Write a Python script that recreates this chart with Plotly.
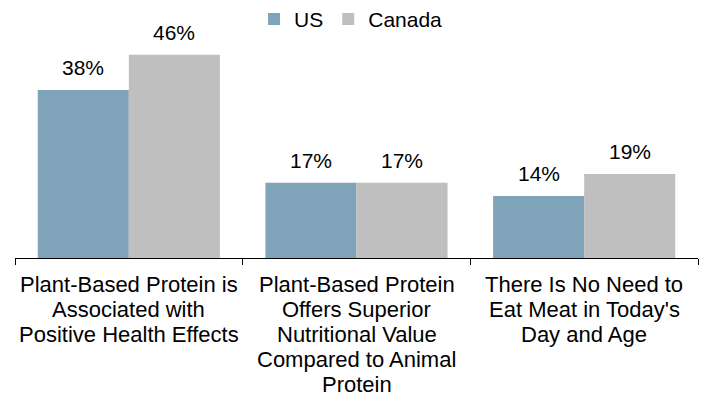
import plotly.graph_objects as go

categories = [
    "Plant-Based Protein is<br>Associated with<br>Positive Health Effects",
    "Plant-Based Protein<br>Offers Superior<br>Nutritional Value<br>Compared to Animal<br>Protein",
    "There Is No Need to<br>Eat Meat in Today's<br>Day and Age",
]
us_values = [38, 17, 14]
canada_values = [46, 17, 19]

US_COLOR = "#7FA3B8"
CANADA_COLOR = "#BFBFBF"
FONT = "Liberation Sans, Arial, sans-serif"

BAR_HALF_PX = 45.5       # half of one bar's width in pixels
LINE_STEP_PX = 25        # spacing between category label lines

fig = go.Figure()
series = [("US", us_values, US_COLOR, -1), ("Canada", canada_values, CANADA_COLOR, 1)]
for name, vals, color, side in series:
    fig.add_trace(go.Bar(
        x=categories, y=vals, name=name,
        marker=dict(color=color, line=dict(width=0)),
    ))
    for cat, v in zip(categories, vals):
        fig.add_annotation(
            x=cat, y=v, xref="x", yref="y", text=f"{v}%", showarrow=False,
            xshift=side * BAR_HALF_PX, yanchor="bottom", yshift=9,
            font=dict(size=21, color="#000000", family=FONT),
        )

# category labels, one annotation per line for tighter line spacing
for cat in categories:
    for i, line in enumerate(cat.split("<br>")):
        fig.add_annotation(
            x=cat, y=0, xref="x", yref="y", text=line, showarrow=False,
            yanchor="middle", yshift=-(26 + i * LINE_STEP_PX),
            font=dict(size=22, color="#000000", family=FONT),
        )

fig.update_layout(
    width=704, height=397,
    margin=dict(l=15, r=6, t=37, b=139, autoexpand=False),
    paper_bgcolor="white", plot_bgcolor="white",
    barmode="group", bargap=0.2, bargroupgap=0,
    font=dict(family=FONT, size=21, color="#000000"),
    showlegend=True,
    legend=dict(orientation="h", x=0.492, xanchor="center", y=1.08, yanchor="middle",
                font=dict(size=21), itemwidth=30, tracegroupgap=0),
)
fig.update_xaxes(
    type="category", showline=True, linecolor="#000000", linewidth=1,
    ticks="outside", tickson="boundaries", ticklen=6, tickcolor="#000000",
    showticklabels=False, showgrid=False,
)
fig.update_yaxes(range=[0, 50], visible=False, showgrid=False)

fig.write_html("out.html")
